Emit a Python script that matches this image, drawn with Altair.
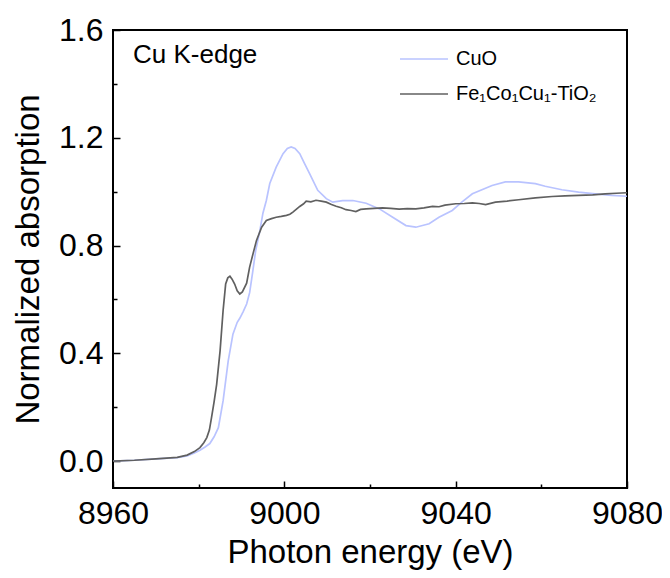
import altair as alt
import pandas as pd

FONT = "Liberation Sans"

cuo_energy = [8960, 8965, 8970, 8975, 8977.3, 8979, 8980.3, 8981.5, 8982.6, 8983.6,
              8984.6, 8985.7, 8986.9, 8988.0, 8989.0, 8989.6, 8990.4, 8991.2, 8991.9, 8992.6,
              8993.3, 8994.3, 8995.0, 8995.8, 8996.6, 8998.1, 8999.7, 9000.7, 9001.6, 9002.5,
              9003.6, 9004.7, 9005.9, 9007.8, 9009.8, 9011.3, 9013.6, 9016.0, 9019.1, 9022.2,
              9025.3, 9028.4, 9030.7, 9033.8, 9036.1, 9039.2, 9041.5, 9043.9, 9048.5, 9051.6,
              9054.7, 9058.6, 9060.9, 9064.8, 9068.7, 9072.6, 9076.4, 9080.0]
cuo_abs = [0.000, 0.003, 0.008, 0.013, 0.019, 0.030, 0.040, 0.052, 0.065, 0.090,
           0.124, 0.223, 0.372, 0.471, 0.515, 0.530, 0.555, 0.583, 0.625, 0.700,
           0.780, 0.856, 0.920, 0.967, 1.030, 1.091, 1.141, 1.160, 1.166, 1.160,
           1.141, 1.105, 1.067, 1.005, 0.974, 0.961, 0.967, 0.967, 0.957, 0.936,
           0.905, 0.874, 0.868, 0.881, 0.905, 0.930, 0.962, 0.992, 1.023, 1.036,
           1.036, 1.030, 1.020, 1.007, 0.998, 0.992, 0.986, 0.983]

fcc_energy = [8960, 8965, 8970, 8975, 8977.3, 8979, 8980.3, 8981.2, 8981.9, 8982.5,
              8983.0, 8983.6, 8984.2, 8985.0, 8985.7, 8986.3, 8986.8, 8987.3, 8987.8, 8988.4,
              8989.0, 8989.6, 8990.2, 8991.2, 8991.9, 8992.7, 8993.5, 8994.7, 8995.8, 8997.0,
              8998.1, 8999.3, 9000.5, 9001.3, 9002.0, 9003.6, 9004.5, 9005.1, 9006.2, 9007.4,
              9008.6, 9009.8, 9011.0, 9012.1, 9013.3, 9014.4, 9015.6, 9016.7, 9017.8, 9019.1,
              9021.0, 9022.9, 9024.8, 9026.8, 9028.7, 9030.7, 9032.6, 9034.6, 9036.1, 9037.5,
              9040.0, 9042.0, 9043.9, 9045.5, 9047.0, 9049.3, 9052.0, 9054.7, 9058.6, 9062.5,
              9065.5, 9068.7, 9072.0, 9074.9, 9077.5, 9080.0]
fcc_abs = [0.000, 0.003, 0.008, 0.014, 0.022, 0.035, 0.050, 0.068, 0.087, 0.115,
           0.161, 0.220, 0.285, 0.409, 0.558, 0.657, 0.680, 0.686, 0.675, 0.657,
           0.632, 0.620, 0.628, 0.660, 0.720, 0.770, 0.819, 0.868, 0.893, 0.900,
           0.905, 0.908, 0.912, 0.916, 0.924, 0.945, 0.955, 0.965, 0.962, 0.968,
           0.965, 0.961, 0.952, 0.946, 0.940, 0.933, 0.930, 0.926, 0.934, 0.936,
           0.938, 0.940, 0.938, 0.935, 0.937, 0.936, 0.940, 0.945, 0.944, 0.950,
           0.955, 0.956, 0.958, 0.956, 0.952, 0.961, 0.965, 0.970, 0.977, 0.982,
           0.984, 0.986, 0.988, 0.992, 0.994, 0.996]

series_names = ["CuO", "Fe\u2081Co\u2081Cu\u2081-TiO\u2082"]
series_colors = ["#b9c3ff", "#606060"]

x_major = [8960, 9000, 9040, 9080]
x_minor = [8980, 9020, 9060]
y_major = [0.0, 0.4, 0.8, 1.2, 1.6]
y_minor = [0.2, 0.6, 1.0, 1.4]
annotation = ["Cu K-edge"]

df = pd.concat([
    pd.DataFrame({"energy": cuo_energy, "absorption": cuo_abs, "sample": series_names[0]}),
    pd.DataFrame({"energy": fcc_energy, "absorption": fcc_abs, "sample": series_names[1]}),
], ignore_index=True)

xs = alt.Scale(domain=[8960, 9080], nice=False, zero=False)
ys = alt.Scale(domain=[-0.1, 1.6], nice=False, zero=False)

lines = alt.Chart(df).mark_line(strokeWidth=1.7).encode(
    x=alt.X("energy:Q", scale=xs, axis=alt.Axis(
        orient="bottom", values=x_major, format="d", ticks=False, domain=False, grid=False,
        labelFlush=False, labelOverlap=False,
        labelFontSize=32, labelFont=FONT, labelColor="black", labelPadding=10,
        title="Photon energy (eV)", titleFontSize=33, titleFont=FONT, titleFontWeight="normal",
        titleColor="black", titlePadding=7)),
    y=alt.Y("absorption:Q", scale=ys, axis=alt.Axis(
        orient="left", values=y_major, format=".1f", ticks=False, domain=False, grid=False,
        labelFlush=False, labelOverlap=False,
        labelFontSize=32, labelFont=FONT, labelColor="black", labelPadding=10,
        title="Normalized absorption", titleFontSize=33, titleFont=FONT, titleFontWeight="normal",
        titleColor="black", titlePadding=13)),
    color=alt.Color("sample:N", scale=alt.Scale(domain=series_names, range=series_colors),
                    legend=alt.Legend(title=None, orient="none", legendX=286, legendY=4,
                                      symbolType="stroke", symbolSize=2304, symbolStrokeWidth=1.7,
                                      labelFontSize=20, labelFont=FONT, labelColor="black",
                                      labelOffset=7, rowPadding=-18, labelLimit=300)),
)

major = alt.Chart(df).mark_point(opacity=0).encode(
    x=alt.X("energy:Q", scale=xs, axis=alt.Axis(
        orient="bottom", values=x_major, labels=False, domain=False, grid=False,
        tickSize=7, tickWidth=1.5, tickColor="black", offset=-7, title=None)),
    y=alt.Y("absorption:Q", scale=ys, axis=alt.Axis(
        orient="left", values=y_major, labels=False, domain=False, grid=False,
        tickSize=7, tickWidth=1.5, tickColor="black", offset=-7, title=None)),
)

minor = alt.Chart(df).mark_point(opacity=0).encode(
    x=alt.X("energy:Q", scale=xs, axis=alt.Axis(
        orient="bottom", values=x_minor, labels=False, domain=False, grid=False,
        tickSize=4, tickWidth=1.5, tickColor="black", offset=-4, title=None)),
    y=alt.Y("absorption:Q", scale=ys, axis=alt.Axis(
        orient="left", values=y_minor, labels=False, domain=False, grid=False,
        tickSize=4, tickWidth=1.5, tickColor="black", offset=-4, title=None)),
)

label = alt.Chart(pd.DataFrame({"t": annotation})).mark_text(
    align="left", baseline="alphabetic", fontSize=26, font=FONT, color="black"
).encode(x=alt.value(20), y=alt.value(33), text="t:N")

chart = alt.layer(lines, major, minor, label).resolve_axis(
    x="independent", y="independent"
).properties(
    width=514, height=458,
    padding={"left": 105, "top": 22, "right": 35, "bottom": 82},
    autosize=alt.AutoSizeParams(type="none"),
).configure_view(stroke="black", strokeWidth=2)

chart.save("out.html", embed_options={"renderer": "svg", "actions": False})
